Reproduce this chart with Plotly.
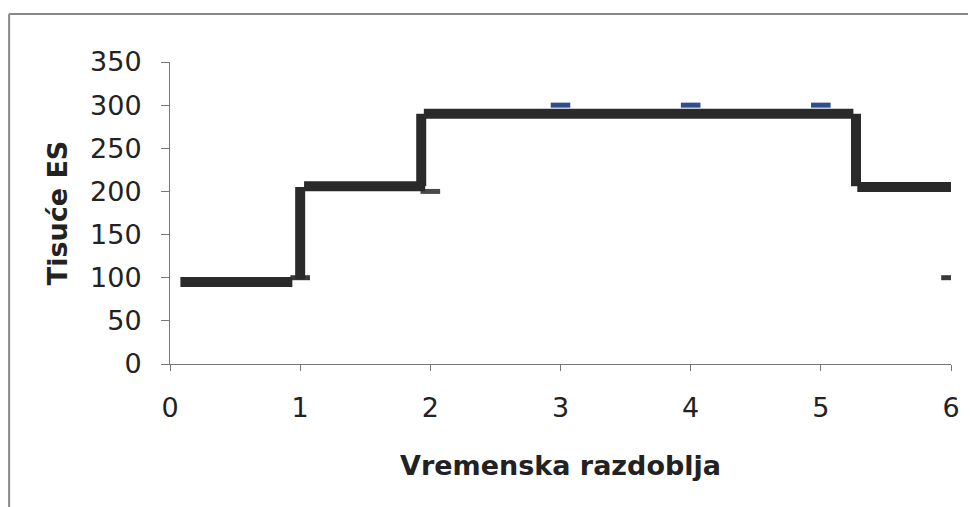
import plotly.graph_objects as go

# Step line (black, thick) – segments separated by None
step_x = [0.08, 0.94, None, 1.0, 1.0, None, 1.03, 1.96, None, 1.93, 1.93, None,
          1.95, 5.25, None, 5.27, 5.27, None, 5.28, 6.0]
step_y = [95, 95, None, 98, 205, None, 206, 206, None, 206, 290, None,
          290, 290, None, 290, 206, None, 205, 205]

# Point markers (demand per period)
pt_x = [1, 2, 3, 4, 5, 6]
pt_y = [100, 200, 300, 300, 300, 100]
pt_colors = ["#3a3a3a", "#4a4a4a", "#2f4f8c", "#2f4f8c", "#2f4f8c", "#3a3a3a"]

x_ticks = [0, 1, 2, 3, 4, 5, 6]
y_ticks = [0, 50, 100, 150, 200, 250, 300, 350]

fig = go.Figure()
fig.add_trace(go.Scatter(
    x=pt_x, y=pt_y, mode="markers",
    marker=dict(symbol="line-ew", size=14, color=pt_colors,
                line=dict(width=5, color=pt_colors)),
    showlegend=False, hoverinfo="skip"))
fig.add_trace(go.Scatter(
    x=step_x, y=step_y, mode="lines",
    line=dict(color="#2a2a2a", width=10),
    connectgaps=False, showlegend=False))

font_family = "DejaVu Sans, Arial, sans-serif"

fig.update_layout(
    width=968, height=499,
    margin=dict(l=162, r=25, t=54, b=143),
    paper_bgcolor="white", plot_bgcolor="white",
    font=dict(family=font_family, color="#222222", size=27),
    xaxis=dict(range=[0, 6], tickvals=x_ticks, showgrid=False, zeroline=False,
               showline=True, linecolor="#777777", linewidth=1,
               ticks="outside", ticklen=6, tickcolor="#777777",
               tickfont=dict(size=27, color="#222222"),
               ticklabelstandoff=14,
               title=dict(text="<b>Vremenska razdoblja</b>",
                          font=dict(size=27, color="#222222"), standoff=33)),
    yaxis=dict(range=[0, 350], tickvals=y_ticks, showgrid=False, zeroline=False,
               showline=True, linecolor="#777777", linewidth=1,
               ticks="outside", ticklen=8, tickcolor="#777777",
               tickfont=dict(size=27, color="#222222"),
               ticklabelstandoff=14,
               title=dict(text="<b>Tisuće ES</b>",
                          font=dict(size=27, color="#222222"), standoff=14)),
    shapes=[
        dict(type="line", xref="paper", yref="paper",
             x0=-0.206, x1=1.2, y0=1.159, y1=1.159,
             line=dict(color="#888888", width=2)),
        dict(type="line", xref="paper", yref="paper",
             x0=-0.206, x1=-0.206, y0=1.159, y1=-0.6,
             line=dict(color="#888888", width=2)),
    ],
)

fig.write_html("out.html")
